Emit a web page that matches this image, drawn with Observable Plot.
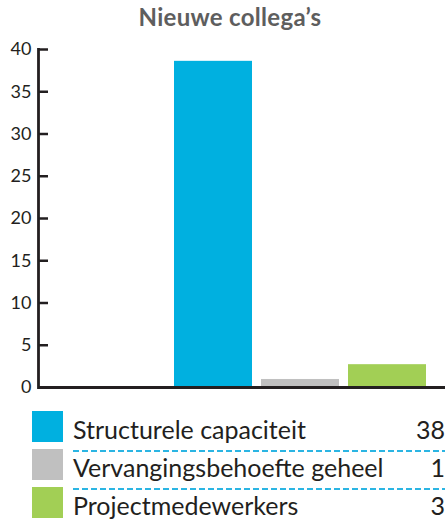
<!DOCTYPE html>
<html><head><meta charset="utf-8">
<script src="https://cdn.jsdelivr.net/npm/d3@7"></script>
<script src="https://cdn.jsdelivr.net/npm/@observablehq/plot@0.6"></script>
<style>
body{margin:0;background:#fff;font-family:Lato,"DejaVu Sans",sans-serif;}
#wrap{position:relative;width:445px;height:521px;overflow:hidden;}
#title{position:absolute;left:0;top:2px;width:460px;text-align:center;font-weight:bold;font-size:24px;line-height:30px;color:#5e5e5e;letter-spacing:0.3px;}
#chart{position:absolute;left:0;top:32px;}
#legend{position:absolute;left:0;top:411px;width:445px;}
.row{position:absolute;left:0;width:445px;height:31px;}
.sw{position:absolute;left:32px;top:0;width:31px;height:31px;}
.lab{position:absolute;left:73px;top:3px;line-height:31px;font-size:25px;color:#231f20;}
.val{position:absolute;right:0;top:3px;line-height:31px;font-size:25px;color:#231f20;}
.sep{position:absolute;left:73px;width:372px;height:2px;background:repeating-linear-gradient(to right,#2bb5e3 0 6px,transparent 6px 9px);}
</style></head>
<body><div id="wrap">
<div id="title"></div>
<div id="chart"></div>
<div id="legend"></div>
</div>
<script>
const title = "Nieuwe collega’s";
const categories = ["Structurele capaciteit", "Vervangingsbehoefte geheel", "Projectmedewerkers"];
const barValues = [38.6, 0.95, 2.7];
const legendValues = [38, 1, 3];
const colors = ["#00b0e0", "#c0c0c0", "#a2cf55"];
const yTicks = [0, 5, 10, 15, 20, 25, 30, 35, 40];

document.getElementById("title").textContent = title;
const data = categories.map((c, i) => ({cat: c, value: barValues[i], color: colors[i]}));
const xDomain = [" ", ...categories];

const chart = Plot.plot({
  width: 445,
  height: 368,
  marginLeft: 38,
  marginRight: 0,
  marginTop: 17,
  marginBottom: 13,
  style: {fontFamily: "Lato, 'DejaVu Sans', sans-serif", fontSize: "18px", color: "#231f20", background: "transparent"},
  x: {type: "band", domain: xDomain, range: [38, 475], paddingInner: 0.1, paddingOuter: 0.54, axis: null},
  y: {domain: [0, 40], axis: null},
  marks: [
    Plot.rectY(data, {x: "cat", y: "value", fill: "color"}),
    Plot.axisY(yTicks, {anchor: "left", label: null, tickSize: 0, tickPadding: 7, fontSize: 18, fill: "#231f20"}),
    Plot.ruleY(yTicks, {stroke: "#231f20", strokeWidth: 2.5, insetRight: 445 - 38 - 10}),
    Plot.frame({anchor: "left", stroke: "#231f20", strokeWidth: 2.8}),
    Plot.ruleY([0], {stroke: "#231f20", strokeWidth: 2.8})
  ]
});
document.getElementById("chart").appendChild(chart);

const legend = document.getElementById("legend");
categories.forEach((c, i) => {
  const row = document.createElement("div");
  row.className = "row";
  row.style.top = (i * 38) + "px";
  row.innerHTML = `<div class="sw" style="background:${colors[i]}"></div><div class="lab">${c}</div><div class="val">${legendValues[i]}</div>`;
  legend.appendChild(row);
  if (i > 0) {
    const sep = document.createElement("div");
    sep.className = "sep";
    sep.style.top = (i * 38 + 1) + "px";
    legend.appendChild(sep);
  }
});
</script>
</body></html>
